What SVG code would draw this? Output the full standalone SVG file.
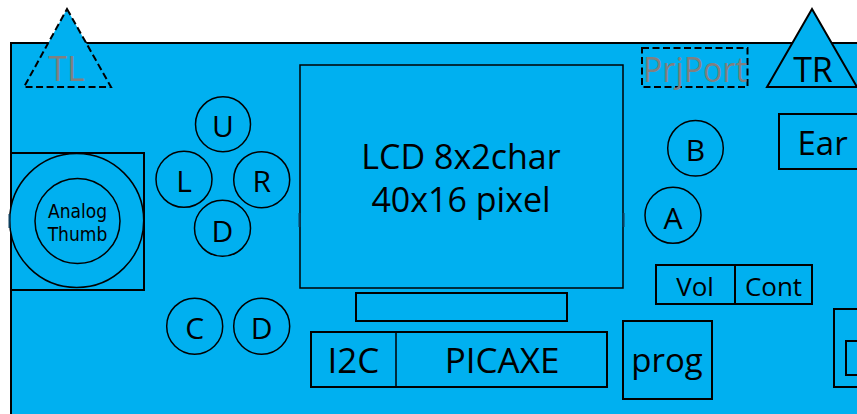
<svg xmlns="http://www.w3.org/2000/svg" width="857" height="414" viewBox="0 0 857 414">
<style>
.s{fill:#00B0F0;stroke:#000;stroke-width:2}
.c{fill:#00B0F0;stroke:#000;stroke-width:1.5}
.d{fill:#00B0F0;stroke:#000;stroke-width:2;stroke-dasharray:7 3.5}
.t{font-family:"Open Sans","DejaVu Sans",sans-serif;fill:#000;text-anchor:middle}
.sm{font-family:"DejaVu Sans Condensed","DejaVu Sans",sans-serif;font-stretch:condensed}
.g{fill:#808080}
.tick{stroke:#0b3d5c;stroke-width:2}
</style>
<rect width="857" height="414" fill="#fff"/>
<g id="board"><rect class="s" x="11" y="43" width="870" height="400"/></g>
<g id="TL"><polygon class="d" points="67,9 111,87 24,87"/><text class="t g" x="66.5" y="81" font-size="34">TL</text></g>
<g id="TR"><polygon class="s" points="812,9 857,87 767,87"/><text class="t" x="813" y="81.5" font-size="34">TR</text></g>
<g id="PrjPort"><rect class="d" x="642" y="48" width="105.5" height="39"/><text class="t g" x="695" y="81.5" font-size="34" textLength="104" lengthAdjust="spacingAndGlyphs">PrjPort</text></g>
<g id="LCD"><rect class="s" x="300" y="65" width="323" height="223" style="stroke-width:1.5"/><text class="t" x="461" y="169" font-size="34">LCD 8x2char</text><text class="t" x="461" y="212" font-size="34">40x16 pixel</text></g>
<g id="lcdbar"><rect class="s" x="356" y="293" width="211" height="28"/></g>
<g id="PICAXE"><rect class="s" x="311" y="332" width="296" height="55"/><line x1="396" y1="332" x2="396" y2="387" stroke="#000" stroke-width="1.5"/><text class="t" x="353.5" y="373" font-size="35">I2C</text><text class="t" x="502" y="373" font-size="35">PICAXE</text></g>
<g id="prog"><rect class="s" x="623" y="321" width="89" height="78"/><text class="t" x="667" y="372" font-size="33">prog</text></g>
<g id="VolCont"><rect class="s" x="656" y="265" width="156" height="39"/><line x1="735" y1="265" x2="735" y2="304" stroke="#000" stroke-width="2"/><text class="t" x="695" y="296" font-size="26">Vol</text><text class="t" x="773.5" y="296" font-size="26">Cont</text></g>
<g id="Ear"><rect class="s" x="779" y="114" width="100" height="55"/><text x="797.5" y="154.5" font-size="33" font-family="Open Sans, DejaVu Sans, sans-serif">Ear</text></g>
<g id="rightbox"><rect class="s" x="834" y="309" width="40" height="78"/><rect class="s" x="846" y="341" width="30" height="34"/></g>
<g id="btnB"><circle class="c" cx="695.5" cy="148.3" r="27.8"/><text class="t" x="695.5" y="161" font-size="30">B</text></g>
<g id="btnA"><circle class="c" cx="673" cy="215.3" r="28"/><text class="t" x="673" y="229" font-size="30">A</text></g>
<g id="btnU"><circle class="c" cx="223" cy="124.3" r="27.5"/><text class="t" x="223" y="137" font-size="30">U</text></g>
<g id="btnL"><circle class="c" cx="184" cy="179.3" r="28"/><text class="t" x="184" y="192" font-size="30">L</text></g>
<g id="btnR"><circle class="c" cx="261.7" cy="179.7" r="28"/><text class="t" x="261.7" y="192" font-size="30">R</text></g>
<g id="btnD"><circle class="c" cx="222.5" cy="228.3" r="28"/><text class="t" x="222.5" y="241.7" font-size="30">D</text></g>
<g id="btnC"><circle class="c" cx="194.7" cy="326.2" r="28"/><text class="t" x="194.7" y="339" font-size="30">C</text></g>
<g id="btnD2"><circle class="c" cx="261.7" cy="326.2" r="28"/><text class="t" x="261.7" y="339" font-size="30">D</text></g>
<g id="AnalogThumb"><rect class="s" x="11" y="153" width="133" height="137"/><circle class="c" cx="76.7" cy="220.5" r="67"/><circle class="c" cx="77.5" cy="221" r="42.5"/><text class="t sm" x="77.5" y="218" font-size="19">Analog</text><text class="t sm" x="77.5" y="241" font-size="19">Thumb</text></g>
<g id="connectors"><line class="tick" x1="9.5" y1="214" x2="9.5" y2="228"/><line class="tick" x1="299.5" y1="213" x2="299.5" y2="227"/><line class="tick" x1="623.5" y1="213" x2="623.5" y2="227"/></g>
</svg>
